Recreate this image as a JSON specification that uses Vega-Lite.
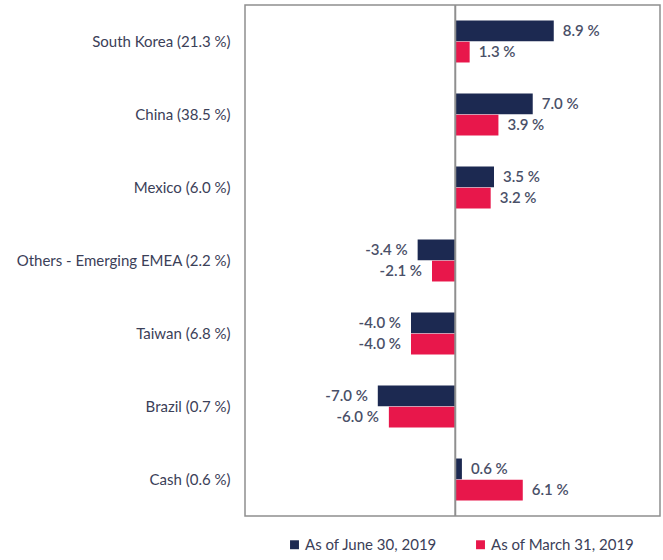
{
  "$schema": "https://vega.github.io/schema/vega-lite/v6.json",
  "width": 415,
  "height": 511,
  "autosize": "none",
  "padding": {"left": 245, "top": 5, "right": 3, "bottom": 44},
  "background": "white",
  "config": {
    "view": {"stroke": "#8f8f8f", "strokeWidth": 1.5},
    "font": "Lato",
    "text": {"font": "Lato"}
  },
  "data": {
    "values": [
      {"country": "South Korea (21.3 %)", "series": "As of June 30, 2019", "value": 8.9},
      {"country": "South Korea (21.3 %)", "series": "As of March 31, 2019", "value": 1.3},
      {"country": "China (38.5 %)", "series": "As of June 30, 2019", "value": 7.0},
      {"country": "China (38.5 %)", "series": "As of March 31, 2019", "value": 3.9},
      {"country": "Mexico (6.0 %)", "series": "As of June 30, 2019", "value": 3.5},
      {"country": "Mexico (6.0 %)", "series": "As of March 31, 2019", "value": 3.2},
      {"country": "Others - Emerging EMEA (2.2 %)", "series": "As of June 30, 2019", "value": -3.4},
      {"country": "Others - Emerging EMEA (2.2 %)", "series": "As of March 31, 2019", "value": -2.1},
      {"country": "Taiwan (6.8 %)", "series": "As of June 30, 2019", "value": -4.0},
      {"country": "Taiwan (6.8 %)", "series": "As of March 31, 2019", "value": -4.0},
      {"country": "Brazil (0.7 %)", "series": "As of June 30, 2019", "value": -7.0},
      {"country": "Brazil (0.7 %)", "series": "As of March 31, 2019", "value": -6.0},
      {"country": "Cash (0.6 %)", "series": "As of June 30, 2019", "value": 0.6},
      {"country": "Cash (0.6 %)", "series": "As of March 31, 2019", "value": 6.1}
    ]
  },
  "transform": [
    {"calculate": "(datum.value < 0 ? '-' : '') + format(abs(datum.value), '.1f') + ' %'", "as": "label"}
  ],
  "encoding": {
    "y": {
      "field": "country",
      "type": "nominal",
      "sort": null,
      "scale": {"paddingInner": 0.425, "paddingOuter": 0.2125},
      "axis": {
        "title": null,
        "ticks": false,
        "domain": false,
        "labelPadding": 15,
        "labelFontSize": 15,
        "labelColor": "#3b4058",
        "labelFont": "Lato",
        "labelLimit": 300
      }
    },
    "yOffset": {"field": "series", "type": "nominal", "sort": ["As of June 30, 2019", "As of March 31, 2019"], "scale": {"paddingInner": 0.02}},
    "x": {
      "field": "value",
      "type": "quantitative",
      "scale": {"domain": [-19, 18.5], "nice": false, "zero": false},
      "axis": null
    }
  },
  "layer": [
    {
      "mark": {"type": "bar"},
      "encoding": {
        "color": {
          "field": "series",
          "type": "nominal",
          "sort": ["As of June 30, 2019", "As of March 31, 2019"],
          "scale": {"domain": ["As of June 30, 2019", "As of March 31, 2019"], "range": ["#1c2951", "#e8174b"]},
          "legend": {
            "title": null,
            "orient": "none",
            "direction": "horizontal",
            "legendX": 42,
            "legendY": 532,
            "symbolType": "square",
            "symbolSize": 80,
            "symbolStrokeWidth": 0,
            "labelFontSize": 15,
            "labelColor": "#3b4058",
            "labelFont": "Lato",
            "columnPadding": 36,
            "symbolOffset": 0,
            "labelOffset": 3
          }
        }
      }
    },
    {
      "transform": [{"filter": "datum.value >= 0"}],
      "mark": {"type": "text", "align": "left", "baseline": "middle", "dx": 9, "fontSize": 15, "fontWeight": 600, "color": "#4a5068"},
      "encoding": {"text": {"field": "label"}}
    },
    {
      "transform": [{"filter": "datum.value < 0"}],
      "mark": {"type": "text", "align": "right", "baseline": "middle", "dx": -10, "fontSize": 15, "fontWeight": 600, "color": "#4a5068"},
      "encoding": {"text": {"field": "label"}}
    },
    {
      "data": {"values": [{"zero": 0}]},
      "mark": {"type": "rule", "color": "#8f8f8f", "strokeWidth": 2},
      "encoding": {"x": {"field": "zero", "type": "quantitative"}, "y": null, "yOffset": null}
    }
  ]
}
